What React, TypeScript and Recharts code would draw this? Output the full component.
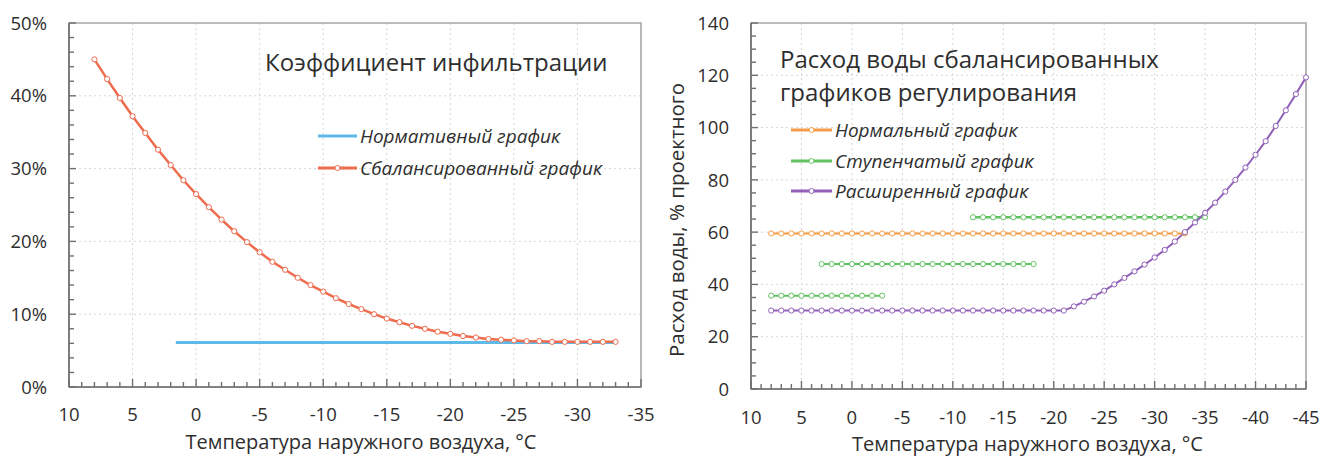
import { CartesianGrid, Legend, Line, LineChart, ReferenceArea, XAxis, YAxis } from 'recharts';

const FONT = '"Open Sans", "Noto Sans", sans-serif';
const TEXT = '#2e2e2e';
const AXIS = '#6f6f6f';
const BOX = '#a6a6a6';
const GRID = '#d6d6d6';

// --- left chart: коэффициент инфильтрации, %
const INF_TEMPS = [8, 7, 6, 5, 4, 3, 2, 1, 0, -1, -2, -3, -4, -5, -6, -7, -8, -9, -10, -11, -12, -13, -14, -15, -16, -17, -18, -19, -20, -21, -22, -23, -24, -25, -26, -27, -28, -29, -30, -31, -32, -33];
const INF_BALANCED = [45.0, 42.3, 39.7, 37.2, 34.9, 32.6, 30.5, 28.4, 26.5, 24.7, 23.0, 21.4, 19.9, 18.5, 17.2, 16.1, 15.0, 14.0, 13.1, 12.2, 11.4, 10.7, 10.0, 9.4, 8.9, 8.4, 8.0, 7.6, 7.3, 7.0, 6.8, 6.6, 6.5, 6.4, 6.3, 6.3, 6.2, 6.2, 6.2, 6.2, 6.2, 6.2];
const INF_NORM_TEMPS = [1.6, -33];
const INF_NORM = [6.1, 6.1];
const INF_X_MAJOR = [10, 5, 0, -5, -10, -15, -20, -25, -30, -35];
const INF_Y_MAJOR = [0, 10, 20, 30, 40, 50];

// --- right chart: расход воды, % проектного
const NORMAL_TEMPS = [8, 7, 6, 5, 4, 3, 2, 1, 0, -1, -2, -3, -4, -5, -6, -7, -8, -9, -10, -11, -12, -13, -14, -15, -16, -17, -18, -19, -20, -21, -22, -23, -24, -25, -26, -27, -28, -29, -30, -31, -32, -33];
const NORMAL_FLOW = [59.5, 59.5, 59.5, 59.5, 59.5, 59.5, 59.5, 59.5, 59.5, 59.5, 59.5, 59.5, 59.5, 59.5, 59.5, 59.5, 59.5, 59.5, 59.5, 59.5, 59.5, 59.5, 59.5, 59.5, 59.5, 59.5, 59.5, 59.5, 59.5, 59.5, 59.5, 59.5, 59.5, 59.5, 59.5, 59.5, 59.5, 59.5, 59.5, 59.5, 59.5, 59.5];
const STEP1_TEMPS = [8, 7, 6, 5, 4, 3, 2, 1, 0, -1, -2, -3];
const STEP1_FLOW = [35.7, 35.7, 35.7, 35.7, 35.7, 35.7, 35.7, 35.7, 35.7, 35.7, 35.7, 35.7];
const STEP2_TEMPS = [3, 2, 1, 0, -1, -2, -3, -4, -5, -6, -7, -8, -9, -10, -11, -12, -13, -14, -15, -16, -17, -18];
const STEP2_FLOW = [47.8, 47.8, 47.8, 47.8, 47.8, 47.8, 47.8, 47.8, 47.8, 47.8, 47.8, 47.8, 47.8, 47.8, 47.8, 47.8, 47.8, 47.8, 47.8, 47.8, 47.8, 47.8];
const STEP3_TEMPS = [-12, -13, -14, -15, -16, -17, -18, -19, -20, -21, -22, -23, -24, -25, -26, -27, -28, -29, -30, -31, -32, -33, -34, -35];
const STEP3_FLOW = [65.7, 65.7, 65.7, 65.7, 65.7, 65.7, 65.7, 65.7, 65.7, 65.7, 65.7, 65.7, 65.7, 65.7, 65.7, 65.7, 65.7, 65.7, 65.7, 65.7, 65.7, 65.7, 65.7, 65.7];
const EXT_TEMPS = [8, 7, 6, 5, 4, 3, 2, 1, 0, -1, -2, -3, -4, -5, -6, -7, -8, -9, -10, -11, -12, -13, -14, -15, -16, -17, -18, -19, -20, -21, -22, -23, -24, -25, -26, -27, -28, -29, -30, -31, -32, -33, -34, -35, -36, -37, -38, -39, -40, -41, -42, -43, -44, -45];
const EXT_FLOW = [30, 30, 30, 30, 30, 30, 30, 30, 30, 30, 30, 30, 30, 30, 30, 30, 30, 30, 30, 30, 30, 30, 30, 30, 30, 30, 30, 30, 30, 30, 31.6, 33.4, 35.4, 37.6, 40.0, 42.5, 45.0, 47.6, 50.3, 53.2, 56.4, 60.0, 63.7, 67.4, 71.3, 75.5, 80.0, 84.7, 89.6, 94.8, 100.6, 106.6, 112.8, 119.2];
const FLOW_X_MAJOR = [10, 5, 0, -5, -10, -15, -20, -25, -30, -35, -40, -45];
const FLOW_Y_MAJOR = [0, 20, 40, 60, 80, 100, 120, 140];

const INF_COLORS = { norm: '#5fb9e6', balanced: '#ee6b4d' };
const FLOW_COLORS = { normal: '#f39c45', step: '#62c262', ext: '#9161b9' };

const rows = (ts: number[], vs: number[]) => ts.map((t, i) => ({ t, v: vs[i] }));
const between = (hi: number, lo: number, step: number) => {
  const out: number[] = [];
  for (let v = hi; v >= lo; v -= step) out.push(v);
  return out;
};

const xTick = (major: number[], dy: number) => (props: any) => {
  const { x, y, payload } = props;
  const isMajor = major.includes(payload.value);
  return (
    <g>
      <line x1={x} x2={x} y1={y} y2={y - (isMajor ? 8 : 5)} stroke={AXIS} strokeWidth={1.4} />
      {isMajor && (
        <text x={x} y={y + dy} textAnchor="middle" fill={TEXT} fontSize={18.5} fontFamily={FONT}>
          {payload.value}
        </text>
      )}
    </g>
  );
};

const yTick = (major: number[], suffix: string) => (props: any) => {
  const { x, y, payload } = props;
  const isMajor = major.includes(payload.value);
  return (
    <g>
      <line x1={x} x2={x + (isMajor ? 7 : 5)} y1={y} y2={y} stroke={AXIS} strokeWidth={1.4} />
      {isMajor && (
        <text x={x - 22} y={y} dy="0.36em" textAnchor="end" fill={TEXT} fontSize={18.5} fontFamily={FONT}>
          {payload.value + suffix}
        </text>
      )}
    </g>
  );
};

type Item = { name: string; color: string; marker: boolean };

function LegendBox({ items, title, indent, sample, rowHeight, gapTop }: any) {
  return (
    <div style={{ fontFamily: FONT, color: TEXT }}>
      {title.map((s: string) => (
        <div key={s} style={{ fontSize: 24, lineHeight: '33px', whiteSpace: 'nowrap' }}>{s}</div>
      ))}
      <div style={{ marginTop: gapTop, paddingLeft: indent }}>
        {items.map((p: Item) => (
          <div key={p.name} style={{ display: 'flex', alignItems: 'center', height: rowHeight }}>
            <svg width={sample} height={10} style={{ marginRight: 3 }}>
              <line x1={0} x2={sample} y1={5} y2={5} stroke={p.color} strokeWidth={3} />
              {p.marker && <circle cx={sample / 2} cy={5} r={2.5} fill="#fff" stroke={p.color} strokeWidth={1} />}
            </svg>
            <span style={{ fontStyle: 'italic', fontSize: 19, whiteSpace: 'nowrap' }}>{p.name}</span>
          </div>
        ))}
      </div>
    </div>
  );
}

const axisTitle = (text: string, dx: number) => (props: any) => {
  const { x, y, width, height } = props.viewBox;
  return (
    <text x={x + width / 2 + dx} y={y + height - 6} textAnchor="middle" fill={TEXT} fontSize={20} fontFamily={FONT}>
      {text}
    </text>
  );
};

function InfiltrationChart() {
  const dot = { r: 2.6, fill: '#fff', stroke: INF_COLORS.balanced, strokeWidth: 1 };
  const items: Item[] = [
    { name: 'Нормативный график', color: INF_COLORS.norm, marker: false },
    { name: 'Сбалансированный график', color: INF_COLORS.balanced, marker: true },
  ];
  return (
    <LineChart width={660} height={460} margin={{ top: 23, right: 19, bottom: 5, left: 9 }}>
      <CartesianGrid
        stroke={GRID}
        strokeDasharray="2 3"
        verticalValues={[5, 0, -5, -10, -15, -20, -25, -30]}
        horizontalValues={[10, 20, 30, 40]}
      />
      <ReferenceArea x1={10} x2={-35} y1={0} y2={50} fill="none" stroke={BOX} strokeWidth={1.6} ifOverflow="visible" />
      <XAxis
        type="number"
        dataKey="t"
        domain={[-35, 10]}
        reversed
        ticks={between(10, -35, 1)}
        interval={0}
        height={68}
        tickSize={0}
        tickMargin={0}
        tick={xTick(INF_X_MAJOR, 34)}
        axisLine={{ stroke: AXIS, strokeWidth: 1.6 }}
        label={{ content: axisTitle('Температура наружного воздуха, °C', 6) }}
      />
      <YAxis
        type="number"
        domain={[0, 50]}
        ticks={between(50, 0, 2)}
        interval={0}
        width={60}
        tickSize={0}
        tickMargin={0}
        tick={yTick(INF_Y_MAJOR, '%')}
        axisLine={{ stroke: AXIS, strokeWidth: 1.6 }}
      />
      <Legend
        layout="vertical"
        align="center"
        verticalAlign="middle"
        wrapperStyle={{ left: 265, top: 45, width: 'auto' }}
        content={() => <LegendBox items={items} title={['Коэффициент инфильтрации']} indent={53} sample={39} rowHeight={32} gapTop={42} />}
      />
      <Line data={rows(INF_NORM_TEMPS, INF_NORM)} dataKey="v" name="Нормативный график" stroke={INF_COLORS.norm} strokeWidth={3} dot={false} isAnimationActive={false} />
      <Line data={rows(INF_TEMPS, INF_BALANCED)} dataKey="v" name="Сбалансированный график" stroke={INF_COLORS.balanced} strokeWidth={2.5} dot={dot} isAnimationActive={false} />
    </LineChart>
  );
}

function FlowChart() {
  const mk = (c: string) => ({ r: 2.6, fill: '#fff', stroke: c, strokeWidth: 1 });
  const { normal, step, ext } = FLOW_COLORS;
  const items: Item[] = [
    { name: 'Нормальный график', color: normal, marker: true },
    { name: 'Ступенчатый график', color: step, marker: true },
    { name: 'Расширенный график', color: ext, marker: true },
  ];
  return (
    <LineChart width={662} height={460} margin={{ top: 23, right: 16, bottom: 3, left: 31 }}>
      <CartesianGrid
        stroke={GRID}
        strokeDasharray="2 3"
        verticalValues={[5, 0, -5, -10, -15, -20, -25, -30, -35, -40]}
        horizontalValues={[20, 40, 60, 80, 100, 120]}
      />
      <ReferenceArea x1={10} x2={-45} y1={0} y2={140} fill="none" stroke={BOX} strokeWidth={1.6} ifOverflow="visible" />
      <XAxis
        type="number"
        dataKey="t"
        domain={[-45, 10]}
        reversed
        ticks={between(10, -45, 1)}
        interval={0}
        height={68}
        tickSize={0}
        tickMargin={0}
        tick={xTick(FLOW_X_MAJOR, 35)}
        axisLine={{ stroke: AXIS, strokeWidth: 1.6 }}
        label={{ content: axisTitle('Температура наружного воздуха, °C', -1) }}
      />
      <YAxis
        type="number"
        domain={[0, 140]}
        ticks={between(140, 0, 5)}
        interval={0}
        width={60}
        tickSize={0}
        tickMargin={0}
        tick={yTick(FLOW_Y_MAJOR, '')}
        axisLine={{ stroke: AXIS, strokeWidth: 1.6 }}
        label={{
          content: (props: any) => {
            const { x, y, height } = props.viewBox;
            const cx = x - 14;
            const cy = y + height / 2 + 14;
            return (
              <text x={cx} y={cy} transform={`rotate(-90 ${cx} ${cy})`} textAnchor="middle" dy="0.36em" fill={TEXT} fontSize={20.5} fontFamily={FONT}>
                Расход воды, % проектного
              </text>
            );
          },
        }}
      />
      <Legend
        layout="vertical"
        align="center"
        verticalAlign="middle"
        wrapperStyle={{ left: 120, top: 42, width: 'auto' }}
        content={() => (
          <LegendBox items={items} title={['Расход воды сбалансированных', 'графиков регулирования']} indent={11} sample={41} rowHeight={30.5} gapTop={7} />
        )}
      />
      <Line data={rows(NORMAL_TEMPS, NORMAL_FLOW)} dataKey="v" name="Нормальный график" stroke={normal} strokeWidth={2} dot={mk(normal)} isAnimationActive={false} />
      <Line data={rows(STEP1_TEMPS, STEP1_FLOW)} dataKey="v" name="Ступенчатый график" stroke={step} strokeWidth={2} dot={mk(step)} isAnimationActive={false} />
      <Line data={rows(STEP2_TEMPS, STEP2_FLOW)} dataKey="v" name="Ступенчатый график 2" stroke={step} strokeWidth={2} dot={mk(step)} isAnimationActive={false} />
      <Line data={rows(STEP3_TEMPS, STEP3_FLOW)} dataKey="v" name="Ступенчатый график 3" stroke={step} strokeWidth={2.5} dot={mk(step)} isAnimationActive={false} />
      <Line data={rows(EXT_TEMPS, EXT_FLOW)} dataKey="v" name="Расширенный график" stroke={ext} strokeWidth={2} dot={mk(ext)} isAnimationActive={false} />
    </LineChart>
  );
}

export default function App() {
  return (
    <div style={{ position: 'absolute', left: 0, top: 0, width: 1322, height: 460, background: '#fff', display: 'flex' }}>
      <InfiltrationChart />
      <FlowChart />
    </div>
  );
}
